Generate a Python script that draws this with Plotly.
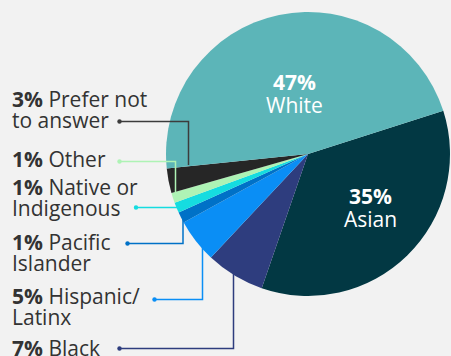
import plotly.graph_objects as go

W, H = 451, 356

# Data (slice order clockwise starting at Asian)
categories = ["Asian", "Black", "Hispanic/ Latinx", "Pacific Islander",
              "Native or Indigenous", "Other", "Prefer not to answer", "White"]
values = [35.2, 6.7, 5.0, 1.25, 1.2, 1.15, 2.8, 46.7]
pct_labels = ["35%", "7%", "5%", "1%", "1%", "1%", "3%", "47%"]
colors = ["#023843", "#2E3D7E", "#0A8EF5", "#0071C7",
          "#15DCE0", "#AEF3B5", "#262626", "#5CB5B8"]

BG = "#F2F2F2"
TXT = "#333333"
FONT = "Open Sans"
FS = 21


def px(x):
    return x / W


def py(y):
    return 1 - y / H


cx, cy, r = 308, 154, 142

fig = go.Figure(go.Pie(
    labels=categories, values=values, sort=False, direction="clockwise",
    rotation=72.3, marker=dict(colors=colors, line=dict(width=0)),
    textinfo="none", hoverinfo="label+percent", showlegend=False,
    domain=dict(x=[px(cx - r), px(cx + r)], y=[py(cy + r), py(cy - r)]),
))

annotations = []
shapes = []


def text(x, y, s, size=FS, color=TXT, anchor="left"):
    annotations.append(dict(x=px(x), y=py(y), xref="paper", yref="paper",
                            text=s, showarrow=False, xanchor=anchor,
                            yanchor="middle", borderpad=0, borderwidth=0,
                            font=dict(family=FONT, size=size, color=color)))


# Inside labels
text(294, 82, "<b>" + pct_labels[7] + "</b>", color="white", anchor="center")
text(294, 105, categories[7], color="white", anchor="center")
text(370, 196, "<b>" + pct_labels[0] + "</b>", color="white", anchor="center")
text(370, 219, categories[0], color="white", anchor="center")

# Outside labels (left side)
x0 = 12
text(x0, 99, "<b>" + pct_labels[6] + "</b> Prefer not")
text(x0, 120, "to answer")
text(x0, 159, "<b>" + pct_labels[5] + "</b> Other")
text(x0, 187, "<b>" + pct_labels[4] + "</b> Native or")
text(x0, 208, "Indigenous")
text(x0, 242, "<b>" + pct_labels[3] + "</b> Pacific")
text(x0, 263, "Islander")
text(x0, 296, "<b>" + pct_labels[2] + "</b> Hispanic/")
text(x0, 317, "Latinx")
text(x0, 348, "<b>" + pct_labels[1] + "</b> Black")

# Leader lines: (dot x, dot y, elbow x, end y, color)
leaders = [
    (119.5, 121.5, 188.5, 165, "#3C3C3C"),
    (119.5, 161.5, 175.5, 192, "#AEF3B5"),
    (136, 207.5, 179, 207.5, "#15DCE0"),
    (127.5, 243.5, 183, 214, "#0071C7"),
    (154.5, 299.5, 202.5, 247, "#0A8EF5"),
    (119.5, 348.5, 233.5, 274, "#2E3D7E"),
]
for dx, dy, ex, ey, col in leaders:
    path = f"M {px(dx)} {py(dy)} L {px(ex)} {py(dy)} L {px(ex)} {py(ey)}"
    shapes.append(dict(type="path", xref="paper", yref="paper", path=path,
                       line=dict(color=col, width=1.5)))
    rr = 2.2
    shapes.append(dict(type="circle", xref="paper", yref="paper",
                       x0=px(dx - rr), x1=px(dx + rr),
                       y0=py(dy + rr), y1=py(dy - rr),
                       fillcolor=col, line=dict(width=0)))

fig.update_layout(
    width=W, height=H, margin=dict(l=0, r=0, t=0, b=0),
    paper_bgcolor=BG, plot_bgcolor=BG,
    annotations=annotations, shapes=shapes,
)

fig.write_html("out.html")
